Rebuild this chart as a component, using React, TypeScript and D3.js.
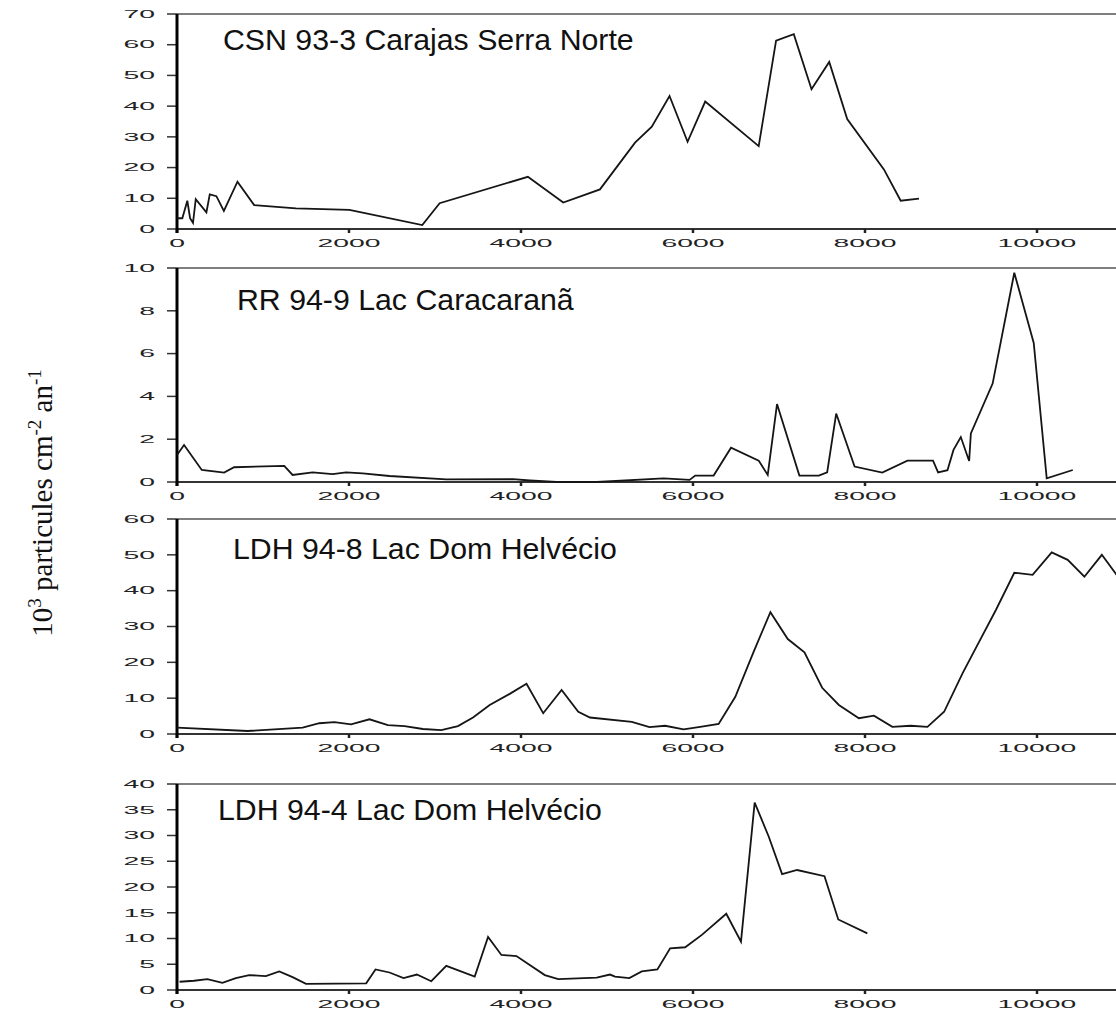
import React from "react";
import * as d3 from "d3";

// Age axis (years) and panel values (10^3 particles cm-2 yr-1)
const xTicks = [0, 2000, 4000, 6000, 8000, 10000];

const csnAge = [0, 62, 120, 152, 186, 218, 342, 381, 458, 545, 703, 897, 1383, 2005, 2852, 3054, 4080, 4491, 4918, 5326, 5521, 5727, 5937, 6142, 6764, 6966, 7172, 7378, 7584, 7793, 8220, 8415, 8628];
const csnValue = [3.5, 3.5, 9.2, 3.5, 2, 9.7, 5.4, 11.3, 10.7, 5.9, 15.4, 7.8, 6.7, 6.2, 1.3, 8.4, 17, 8.6, 12.9, 28.1, 33.3, 43.3, 28.4, 41.5, 27, 61.3, 63.4, 45.5, 54.4, 35.8, 19.4, 9.2, 9.9];

const rrAge = [0, 82, 288, 548, 664, 1247, 1344, 1577, 1810, 1966, 2160, 2471, 3131, 3908, 4103, 4414, 4880, 5657, 5960, 6026, 6240, 6442, 6764, 6869, 6977, 7237, 7463, 7560, 7665, 7879, 8201, 8493, 8791, 8850, 8959, 9029, 9114, 9211, 9231, 9484, 9736, 9962, 10113, 10416];
const rrValue = [1.26, 1.73, 0.56, 0.44, 0.69, 0.75, 0.33, 0.45, 0.37, 0.45, 0.4, 0.28, 0.12, 0.13, 0.07, 0, 0, 0.17, 0.1, 0.3, 0.3, 1.6, 1.0, 0.33, 3.64, 0.3, 0.3, 0.45, 3.2, 0.72, 0.44, 1.0, 1.0, 0.45, 0.55, 1.5, 2.1, 0.98, 2.27, 4.6, 9.78, 6.5, 0.17, 0.56];

const ldh8Age = [0, 820, 1461, 1655, 1830, 2024, 2238, 2452, 2646, 2860, 3073, 3267, 3442, 3636, 3869, 4064, 4258, 4472, 4666, 4802, 5288, 5494, 5676, 5890, 6084, 6298, 6492, 6706, 6900, 7102, 7296, 7502, 7696, 7929, 8104, 8318, 8531, 8726, 8920, 9134, 9328, 9522, 9736, 9949, 10171, 10357, 10551, 10754, 10932];
const ldh8Value = [1.77, 0.84, 1.77, 3.0, 3.3, 2.7, 4.1, 2.5, 2.2, 1.4, 1.1, 2.2, 4.6, 8.1, 11.2, 14, 5.8, 12.3, 6.2, 4.6, 3.4, 1.9, 2.3, 1.3, 2.0, 2.8, 10.4, 23, 34, 26.5, 22.8, 12.9, 8.1, 4.4, 5.1, 2.0, 2.3, 2.0, 6.2, 16.9, 25.8, 34.6, 45, 44.4, 50.7, 48.6, 43.9, 50, 44.2];

const ldh4Age = [30, 198, 353, 528, 684, 839, 1033, 1189, 1344, 1500, 2200, 2308, 2471, 2634, 2789, 2957, 3131, 3462, 3617, 3772, 3947, 4277, 4433, 4880, 5035, 5093, 5260, 5404, 5586, 5734, 5909, 6103, 6387, 6558, 6717, 6880, 7036, 7211, 7529, 7689, 8027];
const ldh4Value = [1.6, 1.8, 2.1, 1.4, 2.3, 2.9, 2.7, 3.6, 2.5, 1.2, 1.3, 4.0, 3.4, 2.3, 3.0, 1.7, 4.7, 2.6, 10.3, 6.8, 6.6, 2.9, 2.1, 2.4, 3.0, 2.6, 2.3, 3.6, 4.0, 8.1, 8.3, 10.7, 14.8, 9.4, 36.4, 29.8, 22.5, 23.3, 22.1, 13.7, 11.0];

const panelTitles = [
  "CSN 93-3 Carajas Serra Norte",
  "RR 94-9 Lac Caracaranã",
  "LDH 94-8 Lac Dom Helvécio",
  "LDH 94-4 Lac Dom Helvécio",
];
const panelMax = [70, 10, 60, 40];
const panelStep = [10, 2, 10, 5];

// Layout
const W = 1116;
const H = 1012;
const X0 = 177;
const panelBox = [
  { top: 14, bottom: 229, titleX: 223, titleY: 50 },
  { top: 268, bottom: 482, titleX: 237, titleY: 310 },
  { top: 519, bottom: 734, titleX: 233, titleY: 559 },
  { top: 784, bottom: 990, titleX: 218, titleY: 820 },
];
const series = [
  [csnAge, csnValue],
  [rrAge, rrValue],
  [ldh8Age, ldh8Value],
  [ldh4Age, ldh4Value],
];

const x = d3.scaleLinear().domain([0, 11000]).range([X0, X0 + 11000 * 0.086]);
const tickFont = "'Liberation Sans', Arial, sans-serif";
const TICK_SX = 2.7;

function Panel({ i }: { i: number }) {
  const box = panelBox[i];
  const y = d3.scaleLinear().domain([0, panelMax[i]]).range([box.bottom, box.top]);
  const [ages, vals] = series[i];
  const pts = ages.map((a, k) => [a, vals[k]] as [number, number]);
  const line = d3
    .line<[number, number]>()
    .x((d) => x(d[0]))
    .y((d) => y(d[1]));
  const yTicks = d3.range(0, panelMax[i] + 1e-9, panelStep[i]);
  const clipId = `clip-${i}`;
  return (
    <g>
      <defs>
        <clipPath id={clipId}>
          <rect x={X0} y={box.top - 2} width={W - X0} height={box.bottom - box.top + 4} />
        </clipPath>
      </defs>
      {/* frame top */}
      <line x1={X0} x2={W} y1={box.top} y2={box.top} stroke="#555" strokeWidth={1.5} />
      {/* bottom axis */}
      <line x1={X0} x2={W} y1={box.bottom} y2={box.bottom} stroke="#333" strokeWidth={2} />
      {xTicks.map((t) => (
        <g key={"xt" + t}>
          <line x1={x(t)} x2={x(t)} y1={box.bottom} y2={box.bottom + 4} stroke="#222" strokeWidth={2.5} />
          <text
            transform={`translate(${x(t)},${box.bottom + 18}) scale(${TICK_SX},1)`}
            textAnchor="middle"
            fontFamily={tickFont}
            fontSize={10.5}
            fill="#222"
          >
            {t}
          </text>
        </g>
      ))}
      {yTicks.map((t) => (
        <g key={"yt" + t}>
          <line x1={X0 - 10} x2={X0} y1={y(t)} y2={y(t)} stroke="#333" strokeWidth={1.5} />
          <text
            transform={`translate(${X0 - 22},${y(t)}) scale(${TICK_SX},1)`}
            textAnchor="end"
            dy="0.36em"
            fontFamily={tickFont}
            fontSize={10.5}
            fill="#222"
          >
            {t}
          </text>
        </g>
      ))}
      {/* left axis */}
      <line x1={X0} x2={X0} y1={box.top} y2={box.bottom + 4} stroke="#000" strokeWidth={3} />
      <path
        d={line(pts) || ""}
        fill="none"
        stroke="#151515"
        strokeWidth={1.8}
        strokeLinejoin="miter"
        clipPath={`url(#${clipId})`}
      />
      <text
        transform={`translate(${box.titleX},${box.titleY}) scale(1.045,1)`}
        fontFamily="'Liberation Sans', Arial, sans-serif"
        fontSize={29}
        fill="#111"
      >
        {panelTitles[i]}
      </text>
    </g>
  );
}

export default function App() {
  return (
    <svg
      width={W}
      height={H}
      viewBox={`0 0 ${W} ${H}`}
      style={{ position: "absolute", left: 0, top: 0, background: "#fff" }}
    >
      <rect width={W} height={H} fill="#fff" />
      {panelTitles.map((_, i) => (
        <Panel key={i} i={i} />
      ))}
      <text
        transform="translate(52,503) rotate(-90)"
        textAnchor="middle"
        fontFamily="'Liberation Serif', 'Times New Roman', serif"
        fontSize={29}
        fill="#111"
      >
        10
        <tspan dy={-11} fontSize={19}>3</tspan>
        <tspan dy={11}> particules cm</tspan>
        <tspan dy={-11} fontSize={19}>-2</tspan>
        <tspan dy={11}> an</tspan>
        <tspan dy={-11} fontSize={19}>-1</tspan>
      </text>
    </svg>
  );
}
